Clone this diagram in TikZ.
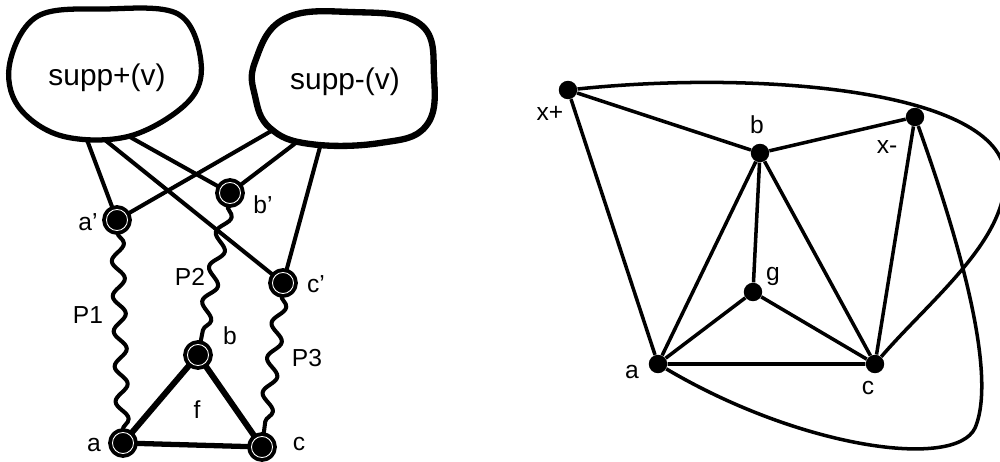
\documentclass[tikz,border=0pt]{standalone}
\usepackage{fontspec}
\setmainfont{Liberation Sans}
\usetikzlibrary{decorations.pathmorphing}
\tikzset{
  vtx/.style={circle, fill=black, draw=black, double=white, double distance=0.5pt, line width=2.2pt, inner sep=0pt, minimum size=12pt},
  dot/.style={circle, fill=black, inner sep=0pt, minimum size=10.5pt},
  lbl/.style={font=\fontsize{14}{16}\selectfont, inner sep=0pt},
  wavy/.style={decorate, decoration={snake, amplitude=3.6pt, segment length=20pt}, line width=2.3pt},
  edge/.style={line width=2.3pt},
  blob/.style={line width=3pt},
}
\begin{document}
\begin{tikzpicture}[x=0.02cm, y=-0.02cm, line join=round]
    \useasboundingbox (0,0) rectangle (1000,462);
    % Left: the two support sets
    \draw[blob] plot[smooth cycle, tension=0.6] coordinates {(10,62) (38,16) (105,9) (178,14) (201,62) (188,102) (130,136) (62,136) (18,106)};
    \draw[blob, line width=3.6pt] plot[smooth cycle, tension=0.7] coordinates {(255,62) (284,19) (350,12) (420,24) (434,76) (426,126) (380,143) (310,144) (270,128) (255,96)};
    \node[font=\fontsize{17}{20}\selectfont] (sp) at (107,78) {supp+(v)};
    \node[font=\fontsize{17}{20}\selectfont] (sm) at (345,82) {supp-(v)};
    \coordinate (sp1) at (87,140); \coordinate (sp2) at (105,140); \coordinate (sp3) at (130,137);
    \coordinate (sm1) at (273,130); \coordinate (sm2) at (297,142); \coordinate (sm3) at (320,147);
    % Vertices
    \node[vtx] (ap) at (117,220) {}; \node[vtx] (bp) at (230,193) {}; \node[vtx] (cp) at (283,283) {};
    \node[vtx] (b) at (198,355) {}; \node[vtx] (a) at (123,443) {}; \node[vtx] (c) at (262,447) {};
    % Edges from the sets
    \draw[edge] (sp1) -- (ap); \draw[edge] (sp2) -- (cp); \draw[edge] (sp3) -- (bp);
    \draw[edge] (sm1) -- (ap); \draw[edge] (sm2) -- (bp); \draw[edge] (sm3) -- (cp);
    % Paths
    \draw[wavy] (ap) -- (a);
    \draw[wavy] (bp) -- (b);
    \draw[wavy] (cp) -- (c);
    % Face f
    \draw[line width=3.4pt] (a) -- (b) -- (c);
    \draw[line width=3pt] (a) -- (c);
    % Labels
    \node[lbl] (ap-l) at (88,222) {a'}; \node[lbl] (bp-l) at (263,205) {b'}; \node[lbl] (cp-l) at (316,284) {c'};
    \node[lbl] (b-l) at (230,336) {b}; \node[lbl] (a-l) at (94,445) {a}; \node[lbl] (c-l) at (299,444) {c};
    \node[lbl] (f-l) at (197,410) {f};
    \node[lbl] (p1-l) at (88,315) {P1}; \node[lbl] (p2-l) at (190,277) {P2}; \node[lbl] (p3-l) at (307,358) {P3};
    % Right: planar graph
    \node[dot] (xp) at (568,90) {}; \node[dot] (rb) at (760,153) {}; \node[dot] (xm) at (915,117) {};
    \node[dot] (g) at (753,292) {}; \node[dot] (ra) at (658,364) {}; \node[dot] (rc) at (875,364) {};
    \draw[edge, line width=2pt] (xp) -- (rb) -- (xm);
    \draw[edge, line width=2pt] (xp) -- (ra) -- (rb) -- (g);
    \draw[edge, line width=2pt] (rb) -- (rc) -- (xm);
    \draw[edge, line width=2pt] (ra) -- (g) -- (rc) -- (ra);
    \draw[edge, line width=2pt] (xp) .. controls (760,70) and (1000,90) .. (1005,175) .. controls (1008,240) and (930,300) .. (rc);
    \draw[edge, line width=2pt] (xm) .. controls (950,215) and (1000,370) .. (975,428) .. controls (955,470) and (800,448) .. (ra);
    \node[lbl] (xp-l) at (550,113) {x+}; \node[lbl] (rb-l) at (757,125) {b}; \node[lbl] (xm-l) at (887,147) {x-};
    \node[lbl] (g-l) at (773,276) {g}; \node[lbl] (ra-l) at (632,372) {a}; \node[lbl] (rc-l) at (868,388) {c};
\end{tikzpicture}
\end{document}
